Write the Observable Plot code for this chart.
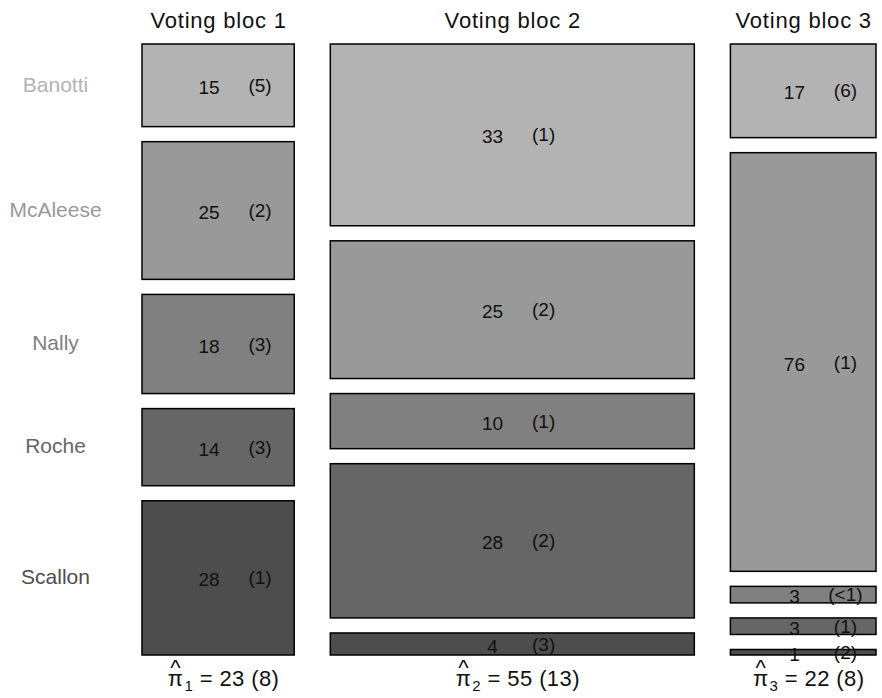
<!DOCTYPE html>
<html>
<head>
<meta charset="utf-8">
<script src="https://cdn.jsdelivr.net/npm/d3@7"></script>
<script src="https://cdn.jsdelivr.net/npm/@observablehq/plot@0.6"></script>
<style>
  html, body { margin: 0; padding: 0; background: #fff; }
  svg { display: block; }
</style>
</head>
<body>
<div id="chart"></div>
<script>
// Candidate support within each voting bloc (percent), with standard errors in brackets
const blocs = ["Voting bloc 1", "Voting bloc 2", "Voting bloc 3"];
const blocShare = [23, 55, 22];          // estimated bloc size, pi-hat (%)
const blocShareSE = ["8", "13", "8"];
const candidates = ["Banotti", "McAleese", "Nally", "Roche", "Scallon"];
const candidateColors = ["#b3b3b3", "#999999", "#808080", "#666666", "#4d4d4d"];
const bloc1 = [15, 25, 18, 14, 28];
const bloc1SE = ["5", "2", "3", "3", "1"];
const bloc2 = [33, 25, 10, 28, 4];
const bloc2SE = ["1", "2", "1", "2", "3"];
const bloc3 = [17, 76, 3, 3, 1];
const bloc3SE = ["6", "1", "<1", "1", "2"];

// spacing between tiles, in the units of the x and y scales
const colGap = 5.45;
const rowGap = 2.73;

const support = [bloc1, bloc2, bloc3];
const supportSE = [bloc1SE, bloc2SE, bloc3SE];

const columns = [];
const cells = [];
let x0 = 0;
blocs.forEach((bloc, i) => {
  const w = blocShare[i];
  columns.push({bloc, index: i + 1, x1: x0, x2: x0 + w, mid: x0 + w / 2,
    label: `π${i + 1} = ${blocShare[i]} (${blocShareSE[i]})`,
    rest: ` = ${blocShare[i]} (${blocShareSE[i]})`});
  let y0 = 0;
  candidates.forEach((c, j) => {
    const v = support[i][j];
    cells.push({bloc, candidate: c, color: candidateColors[j], value: v, se: supportSE[i][j],
      x1: x0, x2: x0 + w, w, y1: y0, y2: y0 + v, ymid: y0 + v / 2, first: i === 0});
    y0 += v + rowGap;
  });
  x0 += w + colGap;
});
const xTotal = x0 - colGap;
const yTotal = 100 + rowGap * (candidates.length - 1);

const font = "'Liberation Sans', Arial, Helvetica, sans-serif";

const chart = Plot.plot({
  width: 882,
  height: 698,
  marginTop: 44,
  marginBottom: 43,
  marginLeft: 142,
  marginRight: 6,
  style: {fontFamily: font, background: "#fff"},
  x: {domain: [0, xTotal], axis: null},
  y: {domain: [0, yTotal], reverse: true, axis: null},
  color: {type: "identity"},
  marks: [
    Plot.rect(cells, {x1: "x1", x2: "x2", y1: "y1", y2: "y2", fill: "color", stroke: "black", strokeWidth: 1.5}),
    Plot.text(cells, {x: d => d.x1 + 0.45 * d.w, y: "ymid", text: d => String(d.value),
      fontSize: 19, fill: "#111", dy: 2, dx: -2}),
    Plot.text(cells, {x: d => d.x1 + 0.45 * d.w, y: "ymid", text: d => `(${d.se})`,
      fontSize: 19, fill: "#111", dx: 49}),
    // candidate names beside the first bloc
    Plot.text(cells.filter(d => d.first), {y: "ymid", frameAnchor: "left", textAnchor: "middle",
      dx: -87, dy: -1, text: "candidate", fill: "color", fontSize: 21}),
    // bloc titles
    Plot.text(columns, {x: "mid", frameAnchor: "top", lineAnchor: "bottom", dy: -17,
      text: "bloc", fontSize: 22, fill: "#111"}),
    // bloc size estimates, pi-hat
    Plot.text(columns, {x: "mid", frameAnchor: "bottom", lineAnchor: "bottom", dy: 30,
      text: "label", fontSize: 22, fill: "#111", dx: 5})
  ]
});

document.getElementById("chart").appendChild(chart);

const allText = d3.select(chart).selectAll("text");

// a little letter spacing on the titles
allText.filter(function() { return this.textContent.startsWith("Voting bloc"); })
  .style("letter-spacing", "0.8px");

// typeset the pi-hat labels: hat over pi, subscripted bloc number
allText.filter(function() { return this.textContent.startsWith("π"); }).each(function(_, i) {
  const col = columns[i];
  const t = d3.select(this).text(null).style("letter-spacing", "0.4px");
  const pi = t.append("tspan").text("π");
  const hat = t.append("tspan").text("^").attr("font-size", 22);
  const wPi = pi.node().getComputedTextLength();
  const wHat = hat.node().getComputedTextLength();
  const shift = (wPi - wHat) / 2;
  hat.attr("dx", -wPi + shift).attr("dy", -11);
  t.append("tspan").text(String(col.index)).attr("font-size", 15)
    .attr("dx", wPi + 1 - shift - wHat).attr("dy", 16);
  t.append("tspan").text(col.rest).attr("dy", -5);
});
</script>
</body>
</html>
